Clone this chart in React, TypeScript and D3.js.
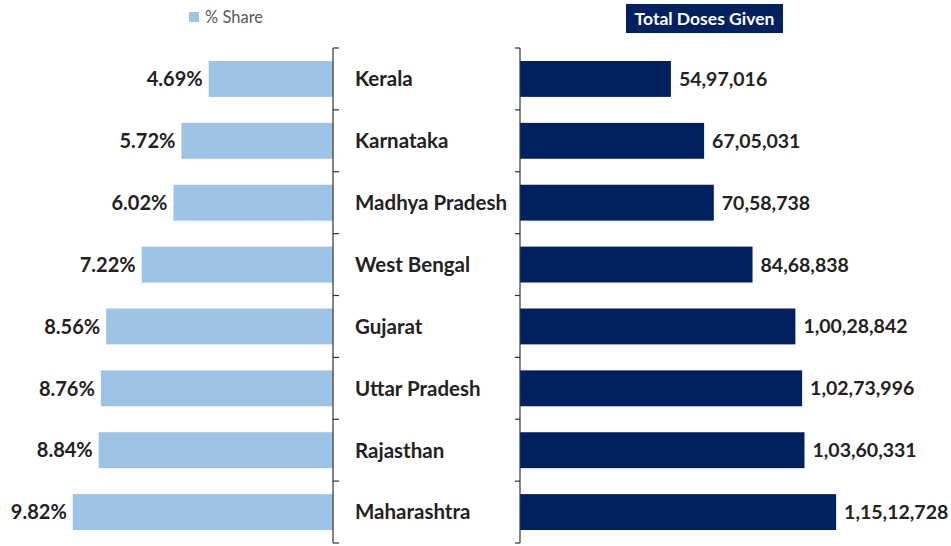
import * as d3 from "d3";

const states = [
  "Kerala",
  "Karnataka",
  "Madhya Pradesh",
  "West Bengal",
  "Gujarat",
  "Uttar Pradesh",
  "Rajasthan",
  "Maharashtra",
];
const shares = [4.69, 5.72, 6.02, 7.22, 8.56, 8.76, 8.84, 9.82];
const doses = [5497016, 6705031, 7058738, 8468838, 10028842, 10273996, 10360331, 11512728];
const doseLabels = [
  "54,97,016",
  "67,05,031",
  "70,58,738",
  "84,68,838",
  "1,00,28,842",
  "1,02,73,996",
  "1,03,60,331",
  "1,15,12,728",
];

const W = 951;
const H = 546;
const font = "Lato, 'Open Sans', sans-serif";
const lightBlue = "#9dc3e6";
const navy = "#002060";

export default function App() {
  const leftAxisX = 333;
  const rightAxisX = 520;

  const y = d3.scaleBand<string>().domain(states).range([48, 543]).paddingInner(0.42).paddingOuter(0.21);
  const step = y.step();
  const bandTop = 48;

  // left chart grows leftwards from the axis
  const xShare = d3.scaleLinear().domain([0, 10]).range([leftAxisX, leftAxisX - 265]);
  // right chart grows rightwards
  const xDose = d3.scaleLinear().domain([0, 12000000]).range([rightAxisX, rightAxisX + 329.5]);

  const boundaries = d3.range(states.length + 1).map((i) => bandTop + i * step);

  return (
    <svg
      width={W}
      height={H}
      style={{ position: "absolute", left: 0, top: 0, background: "#fff" }}
      fontFamily={font}
    >
      {/* legend */}
      <rect x={189} y={12} width={10} height={10} fill={lightBlue} />
      <text x={205} y={23} fontSize={16.5} fill="#595959">
        % Share
      </text>
      <rect x={626} y={4} width={157} height={29} fill={navy} />
      <text x={704.5} y={25} fontSize={17.5} fontWeight="bold" fill="#fff" textAnchor="middle">
        Total Doses Given
      </text>

      {/* left bars */}
      {states.map((s, i) => (
        <g key={"l" + s}>
          <rect
            x={xShare(shares[i])}
            y={y(s)}
            width={xShare(0) - xShare(shares[i])}
            height={y.bandwidth()}
            fill={lightBlue}
          />
          <text
            x={xShare(shares[i]) - 6}
            y={(y(s) as number) + y.bandwidth() / 2}
            dy="0.36em"
            textAnchor="end"
            fontSize={20}
            fontWeight="bold"
            fill="#222"
          >
            {shares[i].toFixed(2)}%
          </text>
        </g>
      ))}

      {/* right bars */}
      {states.map((s, i) => (
        <g key={"r" + s}>
          <rect
            x={xDose(0)}
            y={y(s)}
            width={xDose(doses[i]) - xDose(0)}
            height={y.bandwidth()}
            fill={navy}
          />
          <text
            x={xDose(doses[i]) + 8}
            y={(y(s) as number) + y.bandwidth() / 2}
            dy="0.36em"
            fontSize={19.5}
            fontWeight="bold"
            fill="#222"
          >
            {doseLabels[i]}
          </text>
        </g>
      ))}

      {/* category labels */}
      {states.map((s) => (
        <text
          key={"c" + s}
          x={355}
          y={(y(s) as number) + y.bandwidth() / 2}
          dy="0.36em"
          fontSize={20.5}
          fontWeight="bold"
          fill="#222"
        >
          {s}
        </text>
      ))}

      {/* axes */}
      <line x1={leftAxisX} x2={leftAxisX} y1={bandTop} y2={boundaries[states.length]} stroke="#333" strokeWidth={1.2} />
      {boundaries.map((b, i) => (
        <line key={"lt" + i} x1={leftAxisX} x2={leftAxisX + 6} y1={b} y2={b} stroke="#333" strokeWidth={1.2} />
      ))}
      <line x1={rightAxisX} x2={rightAxisX} y1={bandTop} y2={boundaries[states.length]} stroke="#333" strokeWidth={1.2} />
      {boundaries.map((b, i) => (
        <line key={"rt" + i} x1={rightAxisX - 5} x2={rightAxisX} y1={b} y2={b} stroke="#333" strokeWidth={1.2} />
      ))}
    </svg>
  );
}
